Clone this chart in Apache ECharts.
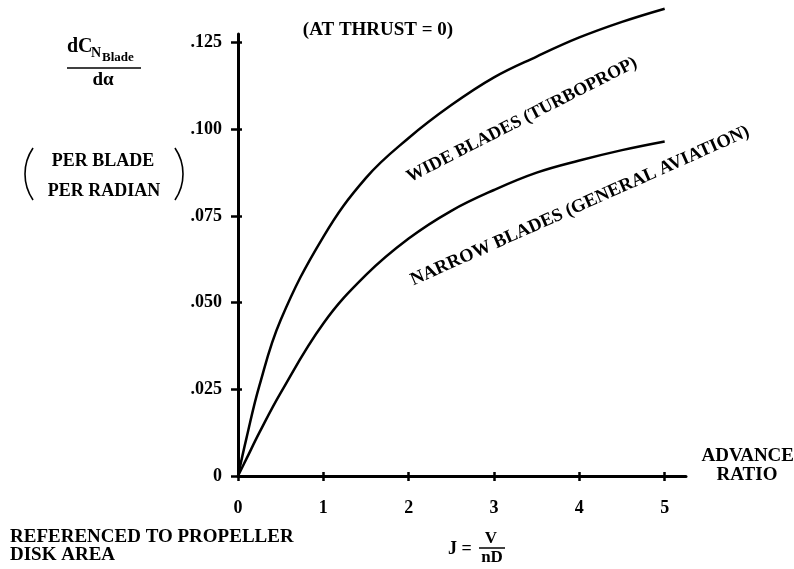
<!DOCTYPE html>
<html>
<head>
<meta charset="utf-8">
<script src="https://cdn.jsdelivr.net/npm/echarts@6/dist/echarts.min.js"></script>
<style>html,body{margin:0;padding:0;background:#fff}#c{width:794px;height:569px}</style>
</head>
<body>
<div id="c"></div>
<script>
// ---- data ----
const advanceRatio = [0, 0.1, 0.25, 0.5, 1, 1.5, 2, 2.5, 3, 3.5, 4, 4.5, 5];
const wideBlades   = [0, 0.011, 0.026, 0.045, 0.069, 0.086, 0.0975, 0.107, 0.115, 0.121, 0.1265, 0.131, 0.1348];
const narrowBlades = [0, 0.005, 0.0125, 0.024, 0.044, 0.058, 0.0685, 0.0765, 0.0825, 0.0875, 0.091, 0.094, 0.0965];
const xTickValues = [0, 1, 2, 3, 4, 5];
const xTickLabels = ['0', '1', '2', '3', '4', '5'];
const yTickValues = [0, 0.025, 0.05, 0.075, 0.1, 0.125];
const yTickLabels = ['0', '.025', '.050', '.075', '.100', '.125'];

const FONT = '"Liberation Serif", "Times New Roman", serif';
const chart = echarts.init(document.getElementById('c'), null, {renderer: 'canvas'});

function lookup(vals, labels) {
  return function (v) {
    for (let i = 0; i < vals.length; i++) if (Math.abs(vals[i] - v) < 1e-9) return labels[i];
    return '';
  };
}
const txt = (x, y, text, size, align, extra) => Object.assign({
  type: 'text', x: x, y: y,
  style: {text: text, fill: '#000', font: 'bold ' + size + 'px ' + FONT, textAlign: align || 'left', textVerticalAlign: 'middle'}
}, extra || {});

const axisLineStyle = {color: '#000', width: 3};
const tickStyle = {color: '#000', width: 2.5};

chart.setOption({
  animation: false,
  backgroundColor: '#fff',
  grid: {left: 238, top: 34, width: 448, height: 442},
  xAxis: [{
    type: 'value', min: 0, max: 5.25,
    axisLine: {show: true, onZero: false, lineStyle: axisLineStyle},
    axisTick: {show: true, length: 5, lineStyle: tickStyle, customValues: xTickValues},
    axisLabel: {show: true, margin: 23, color: '#000', fontFamily: FONT, fontWeight: 'bold', fontSize: 18,
      customValues: xTickValues, formatter: lookup(xTickValues, xTickLabels)},
    splitLine: {show: false}
  }, {
    type: 'value', min: 0, max: 5.25, position: 'bottom',
    axisLine: {show: false},
    axisTick: {show: true, inside: true, length: 4, lineStyle: tickStyle, customValues: xTickValues},
    axisLabel: {show: false},
    splitLine: {show: false}
  }],
  yAxis: [{
    type: 'value', min: 0, max: 0.1275,
    axisLine: {show: true, onZero: false, lineStyle: axisLineStyle},
    axisTick: {show: true, length: 7, lineStyle: tickStyle, customValues: yTickValues},
    axisLabel: {show: true, margin: 16, color: '#000', fontFamily: FONT, fontWeight: 'bold', fontSize: 18,
      customValues: yTickValues, formatter: lookup(yTickValues, yTickLabels)},
    splitLine: {show: false}
  }, {
    type: 'value', min: 0, max: 0.1275, position: 'left',
    axisLine: {show: false},
    axisTick: {show: true, inside: true, length: 4, lineStyle: tickStyle, customValues: yTickValues},
    axisLabel: {show: false},
    splitLine: {show: false}
  }],
  series: [{
    name: 'WIDE BLADES (TURBOPROP)', type: 'line', smooth: 0.4,
    showSymbol: false, clip: false,
    lineStyle: {color: '#000', width: 2.5},
    data: advanceRatio.map((x, i) => [x, wideBlades[i]])
  }, {
    name: 'NARROW BLADES (GENERAL AVIATION)', type: 'line', smooth: 0.4,
    showSymbol: false, clip: false,
    lineStyle: {color: '#000', width: 2.5},
    data: advanceRatio.map((x, i) => [x, narrowBlades[i]])
  }],
  graphic: [
    txt(378, 30, '(AT THRUST = 0)', 19, 'center'),
    // y axis label: dC_N_Blade / dα
    txt(67, 47, 'dC', 20, 'left'),
    txt(91, 53, 'N', 14, 'left'),
    txt(102, 58, 'Blade', 13, 'left'),
    {type: 'line', shape: {x1: 67, y1: 68, x2: 141, y2: 68}, style: {stroke: '#000', lineWidth: 1.5}},
    txt(103, 80, 'd\u03b1', 19, 'center'),
    txt(103, 161, 'PER BLADE', 18, 'center'),
    txt(104, 191, 'PER RADIAN', 18, 'center'),
    {type: 'arc', shape: {cx: 71, cy: 174, r: 46, startAngle: Math.PI - 0.6, endAngle: Math.PI + 0.6, clockwise: true},
      style: {stroke: '#000', lineWidth: 1.6, fill: null}},
    {type: 'arc', shape: {cx: 137, cy: 174, r: 46, startAngle: -0.6, endAngle: 0.6, clockwise: true},
      style: {stroke: '#000', lineWidth: 1.6, fill: null}},
    // curve labels
    txt(522, 120, 'WIDE BLADES (TURBOPROP)', 18, 'center', {rotation: 27 * Math.PI / 180}),
    txt(580, 206, 'NARROW BLADES (GENERAL AVIATION)', 18.5, 'center', {rotation: 24 * Math.PI / 180}),
    // x axis title
    txt(794, 456, 'ADVANCE', 19, 'right'),
    txt(747, 475, 'RATIO', 19, 'center'),
    // bottom notes
    txt(10, 537, 'REFERENCED TO PROPELLER', 19, 'left'),
    txt(10, 555, 'DISK AREA', 19, 'left'),
    txt(448, 549, 'J =', 18, 'left'),
    txt(491, 539, 'V', 17, 'center'),
    {type: 'line', shape: {x1: 479, y1: 548, x2: 505, y2: 548}, style: {stroke: '#000', lineWidth: 1.5}},
    txt(492, 558, 'nD', 17, 'center')
  ]
});
</script>
</body>
</html>
